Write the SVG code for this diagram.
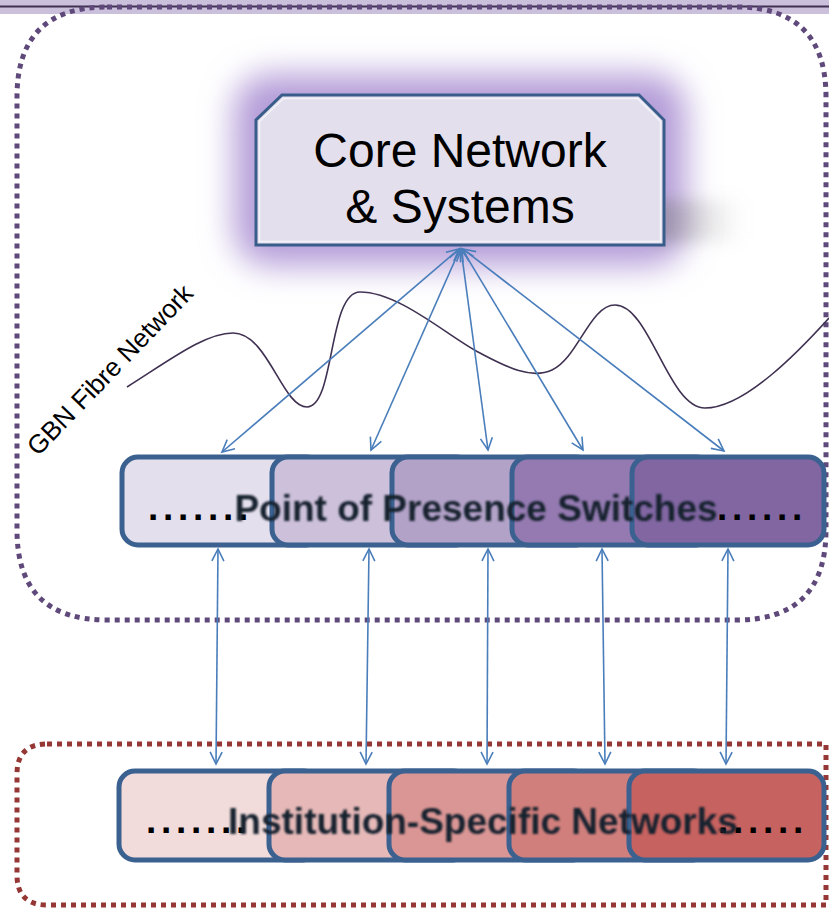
<svg xmlns="http://www.w3.org/2000/svg" width="829" height="908" viewBox="0 0 829 908">
  <defs>
    <style>
      .region-fibre { fill: none; stroke: #5f497a; stroke-width: 5; stroke-dasharray: 5 5; }
      .region-inst { fill: none; stroke: #953735; stroke-width: 5; stroke-dasharray: 5 5; }
      .tile { stroke: #3b6190; stroke-width: 5; }
      .link { fill: none; stroke: #4a7ebb; stroke-width: 1.6; marker-start: url(#head); marker-end: url(#head); }
      .row-label { font-family: "Liberation Sans", Arial, sans-serif; font-weight: bold; font-size: 37px; fill: #14202e; text-anchor: middle; }
      .dots { font-family: "Liberation Sans", Arial, sans-serif; font-weight: bold; font-size: 37px; fill: #000; letter-spacing: 4.7px; }
      .core-label { font-family: "Liberation Sans", Arial, sans-serif; font-size: 48px; fill: #000; text-anchor: middle; }
    </style>
    <marker id="head" markerUnits="userSpaceOnUse" markerWidth="16" markerHeight="16" refX="13" refY="7" orient="auto-start-reverse">
      <path d="M1,1 L13,7 L1,13" fill="none" stroke="#4a7ebb" stroke-width="1.6"/>
    </marker>
    <linearGradient id="shade-fade" x1="0" y1="0" x2="1" y2="0">
      <stop offset="0" stop-color="#777777" stop-opacity="0.55"/>
      <stop offset="1" stop-color="#a0a0a0" stop-opacity="0"/>
    </linearGradient>
    <filter id="glow" x="-30%" y="-50%" width="160%" height="200%">
      <feGaussianBlur stdDeviation="16"/>
    </filter>
    <filter id="shade" x="-50%" y="-100%" width="200%" height="300%">
      <feGaussianBlur stdDeviation="8"/>
    </filter>
    <filter id="soft" x="-5%" y="-30%" width="110%" height="160%">
      <feGaussianBlur stdDeviation="1"/>
    </filter>
  </defs>

  <rect width="829" height="908" fill="#ffffff"/>

  <!-- header band -->
  <g id="header-band">
    <rect x="0" y="0" width="829" height="14" fill="#cbc0dc"/>
    <line x1="0" y1="6.5" x2="829" y2="6.5" stroke="#403152" stroke-width="2"/>
  </g>

  <!-- fibre network region -->
  <g id="fibre-region">
    <path class="region-fibre" d="M107,7 H736 Q826,7 826,97 V530 Q826,620 736,620 H107 Q17,620 17,530 V97 Q17,7 107,7 Z"/>
  </g>

  <!-- institution region -->
  <g id="institution-region">
    <path class="region-inst" d="M47,744 H826 V905 H47 Q17,905 17,875 V774 Q17,744 47,744 Z"/>
  </g>

  <!-- fibre path and its label -->
  <g id="fibre">
    <path d="M127,387 C170,360 205,333 233,333 C268,333 282,407 307,407 C335,407 328,292 360,292 C400,292 450,338 480,353 C505,366 530,380 552,370 C578,358 590,305 615,305 C650,305 668,408 705,408 C745,408 800,350 829,318" fill="none" stroke="#3f3151" stroke-width="1.6"/>
    <text x="38" y="457" transform="rotate(-46 38 457)" font-family="Liberation Sans, Arial, sans-serif" font-size="26" fill="#000">GBN Fibre Network</text>
  </g>

  <!-- core node -->
  <g id="core">
    <rect x="234" y="74" width="452" height="192" rx="36" fill="#b49cd8" filter="url(#glow)"/>
    <rect x="652" y="200" width="92" height="42" fill="url(#shade-fade)" filter="url(#shade)"/>
    <path d="M282,95 H639 L664,120 V245 H256 V120 Z" fill="#e4dfec" stroke="#385d8a" stroke-width="3"/>
    <path d="M283.5,98.5 H637.5 L660.5,121.5 V241.5 H259.5 V121.5 Z" fill="none" stroke="#f4f6fb" stroke-width="1.5" opacity="0.9"/>
    <text class="core-label" x="460" y="167">Core Network</text>
    <text class="core-label" x="460" y="223">&amp; Systems</text>
  </g>

  <!-- connectors -->
  <g id="connectors">
    <line class="link" x1="459" y1="249" x2="222" y2="452"/>
    <line class="link" x1="460" y1="249" x2="371" y2="450"/>
    <line class="link" x1="461" y1="249" x2="488" y2="450"/>
    <line class="link" x1="462" y1="249" x2="583" y2="450"/>
    <line class="link" x1="463" y1="249" x2="724" y2="451"/>
    <line class="link" x1="218" y1="549" x2="216" y2="764"/>
    <line class="link" x1="369" y1="549" x2="366" y2="764"/>
    <line class="link" x1="488" y1="549" x2="487" y2="764"/>
    <line class="link" x1="602" y1="549" x2="605" y2="764"/>
    <line class="link" x1="728" y1="549" x2="726" y2="764"/>
  </g>

  <!-- point of presence switches -->
  <g id="pop-1"><rect class="tile" x="122" y="457" width="200" height="88" rx="16" fill="#e4dfec"/></g>
  <g id="pop-2"><rect class="tile" x="272" y="457" width="200" height="88" rx="16" fill="#ccc0da"/></g>
  <g id="pop-3"><rect class="tile" x="392" y="457" width="200" height="88" rx="16" fill="#b3a2c7"/></g>
  <g id="pop-4"><rect class="tile" x="512" y="457" width="200" height="88" rx="16" fill="#947ab0"/></g>
  <g id="pop-5"><rect class="tile" x="632" y="457" width="192" height="88" rx="16" fill="#8166a1"/></g>
  <g id="pop-label">
    <text class="dots" x="148" y="520">.......</text>
    <text class="dots" x="717" y="520">......</text>
    <text class="row-label" x="476" y="521" filter="url(#soft)">Point of Presence Switches</text>
  </g>

  <!-- institution-specific networks -->
  <g id="inst-1"><rect class="tile" x="119" y="771" width="200" height="89" rx="16" fill="#f2dcdb"/></g>
  <g id="inst-2"><rect class="tile" x="269" y="771" width="200" height="89" rx="16" fill="#e6b9b8"/></g>
  <g id="inst-3"><rect class="tile" x="389" y="771" width="200" height="89" rx="16" fill="#da9694"/></g>
  <g id="inst-4"><rect class="tile" x="509" y="771" width="200" height="89" rx="16" fill="#d17f7c"/></g>
  <g id="inst-5"><rect class="tile" x="629" y="771" width="195" height="89" rx="16" fill="#c6625f"/></g>
  <g id="inst-label">
    <text class="dots" x="146" y="833">.......</text>
    <text class="dots" x="718" y="833">......</text>
    <text class="row-label" x="483" y="834" filter="url(#soft)">Institution-Specific Networks</text>
  </g>
</svg>
